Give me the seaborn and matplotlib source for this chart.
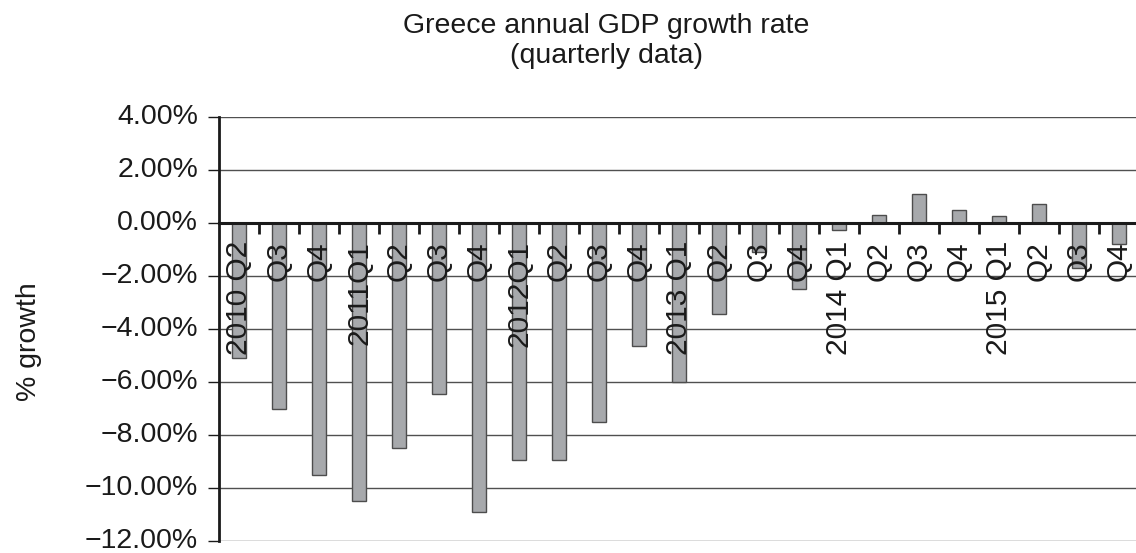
import matplotlib
matplotlib.use("Agg")
import matplotlib.pyplot as plt
import seaborn as sns
import pandas as pd
from matplotlib.ticker import FixedLocator, FuncFormatter

periods = ["2010Q2", "2010Q3", "2010Q4",
           "2011Q1", "2011Q2", "2011Q3", "2011Q4",
           "2012Q1", "2012Q2", "2012Q3", "2012Q4",
           "2013Q1", "2013Q2", "2013Q3", "2013Q4",
           "2014Q1", "2014Q2", "2014Q3", "2014Q4",
           "2015Q1", "2015Q2", "2015Q3", "2015Q4"]
tick_labels = ["2010 Q2", "Q3", "Q4",
               "2011Q1", "Q2", "Q3", "Q4",
               "2012Q1", "Q2", "Q3", "Q4",
               "2013 Q1", "Q2", "Q3", "Q4",
               "2014 Q1", "Q2", "Q3", "Q4",
               "2015 Q1", "Q2", "Q3", "Q4"]
growth = [-5.1, -7.0, -9.5,
          -10.5, -8.5, -6.45, -10.9,
          -8.95, -8.95, -7.5, -4.65,
          -6.0, -3.45, -1.1, -2.5,
          -0.25, 0.3, 1.1, 0.5,
          0.25, 0.7, -1.7, -0.8]
y_ticks = [4, 2, 0, -2, -4, -6, -8, -10, -12]

df = pd.DataFrame({"period": periods, "growth": growth})

sns.set_style("white")
plt.rcParams["font.family"] = ["Liberation Sans", "DejaVu Sans"]

fig = plt.figure(figsize=(11.36, 5.53), dpi=100)
ax = fig.add_axes([219 / 1136, 1 - 541 / 553, 1 - 219 / 1136, (541 - 117) / 553])

sns.barplot(data=df, x="period", y="growth", order=periods, color="#a7a9ac",
            saturation=1, width=0.37, edgecolor="#4d4d4d", linewidth=1, ax=ax)

ax.set_ylim(-12, 4)
ax.set_xlim(-0.5, (1136 - 219) / 40 - 0.5)
ax.yaxis.set_major_locator(FixedLocator(y_ticks))
ax.yaxis.set_major_formatter(FuncFormatter(
    lambda v, p: (f"{v:.2f}%").replace("-", "\u2212")))
ax.grid(axis="y", color="#505050", linewidth=1)
ax.set_axisbelow(True)
ax.xaxis.set_zorder(4)

for s in ["top", "right"]:
    ax.spines[s].set_visible(False)
ax.spines["left"].set_color("#1a1a1a")
ax.spines["left"].set_linewidth(2)
ax.spines["bottom"].set_position(("data", 0))
ax.spines["bottom"].set_color("#1a1a1a")
ax.spines["bottom"].set_linewidth(2.2)
ax.spines["bottom"].set_zorder(3)

ax.set_xticks(range(len(periods)))
ax.set_xticklabels(tick_labels, rotation=90, fontsize=21.5, color="#1a1a1a")
ax.xaxis.set_minor_locator(FixedLocator([i + 0.5 for i in range(len(periods))]))
ax.tick_params(axis="x", which="major", length=0, pad=13)
ax.tick_params(axis="x", which="minor", length=8, width=2, color="#1a1a1a",
               direction="out", bottom=True)
ax.tick_params(axis="y", which="major", length=8, width=1, color="#1a1a1a",
               left=True, labelsize=20.5, labelcolor="#1a1a1a", pad=7)
for t in ax.get_xticklabels():
    t.set_verticalalignment("top")
for t in ax.get_yticklabels():
    t.set_verticalalignment("center")

ax.set_xlabel("")
ax.set_ylabel("% growth", fontsize=20.5, color="#1a1a1a")
ax.yaxis.set_label_coords((42 - 219) / 917, 0.47)

fig.suptitle("Greece annual GDP growth rate\n(quarterly data)", x=606 / 1136,
             y=1 - 13 / 553, va="top", fontsize=20.5, color="#1a1a1a",
             linespacing=1.2)

fig.savefig("out.png", dpi=100)
